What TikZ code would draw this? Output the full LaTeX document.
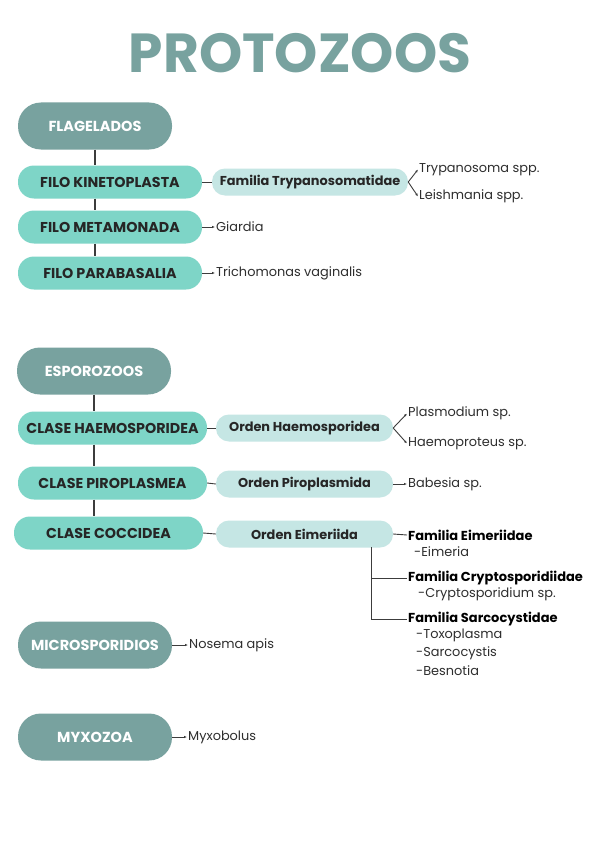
\documentclass[tikz,border=0pt]{standalone}
\usepackage{fontspec}
\setmainfont{Poppins}
\usepackage{xcolor}
\usetikzlibrary{arrows.meta}

\definecolor{tealoscuro}{HTML}{78A29F}
\definecolor{tealmedio}{HTML}{7ED5C7}
\definecolor{tealclaro}{HTML}{C5E6E4}
\definecolor{lineagris}{HTML}{3C3C3C}
\definecolor{textogris}{HTML}{2E2E2E}

\tikzset{
  grupo/.style={fill=tealoscuro, text=white, font=\bfseries\fontsize{14.5}{16}\selectfont,
    minimum width=154pt, minimum height=47pt, rounded corners=23pt, inner sep=0pt},
  filo/.style={fill=tealmedio, text=black!85, font=\bfseries\fontsize{14.3}{16}\selectfont,
    minimum width=184pt, minimum height=33pt, rounded corners=16pt, inner sep=0pt},
  orden/.style={fill=tealclaro, text=black!85, font=\bfseries\fontsize{12.9}{14}\selectfont,
    minimum width=177pt, minimum height=27pt, rounded corners=13pt, inner sep=0pt},
  hoja/.style={anchor=west, inner sep=1pt, text=textogris, font=\fontsize{12.9}{14}\selectfont},
  hojab/.style={hoja, text=black, font=\bfseries\fontsize{13}{14}\selectfont},
  tallo/.style={draw=lineagris, line width=1.3pt},
  enlace/.style={draw=lineagris, line width=0.9pt},
  rama/.style={draw=lineagris, line width=0.9pt, -{Latex[length=3pt,width=2.4pt]}}
}

\begin{document}
\begin{tikzpicture}[x=1pt, y=-1pt]
  \fill[white] (0,0) rectangle (600,848);
  \useasboundingbox (0,0) rectangle (600,848);

  \node[text=tealoscuro, font=\bfseries\fontsize{55}{60}\selectfont] (titulo) at (300,53) {PROTOZOOS};

  % flagelados
  \node[grupo] (flag) at (95,126) {FLAGELADOS};
  \node[filo] (kin) at (110,182) {FILO KINETOPLASTA};
  \node[filo] (meta) at (110,227) {FILO METAMONADA};
  \node[filo] (para) at (110,273) {FILO PARABASALIA};
  \foreach \a/\b in {flag/kin, kin/meta, meta/para}{
    \draw[tallo] (\a.south -| flag) -- (\b.north -| flag);
  }
  \node[orden, minimum width=196pt] (tryp) at (310,182) {Familia Trypanosomatidae};
  \draw[enlace] (kin.east) -- (tryp.west);
  \node[hoja] (trypa) at (418,169.5) {Trypanosoma spp.};
  \node[hoja] (leish) at (418,196.5) {Leishmania spp.};
  \draw[rama] (tryp.east) -- (trypa.west);
  \draw[rama] (tryp.east) -- (leish.west);
  \node[hoja] (giar) at (215,227) {Giardia};
  \draw[rama] (meta.east) -- (giar.west);
  \node[hoja] (trich) at (215,273) {Trichomonas vaginalis};
  \draw[rama] (para.east) -- (trich.west);

  % esporozoos
  \node[grupo] (espo) at (94,371) {ESPOROZOOS};
  \node[filo, minimum width=189pt] (haem) at (112.5,428) {CLASE HAEMOSPORIDEA};
  \node[filo, minimum width=189pt] (piro) at (112.5,483) {CLASE PIROPLASMEA};
  \node[filo, minimum width=189pt] (cocc) at (108.5,533) {CLASE COCCIDEA};
  \foreach \a/\b in {espo/haem, haem/piro, piro/cocc}{
    \draw[tallo] (\a.south -| espo) -- (\b.north -| espo);
  }
  \node[orden] (ohaem) at (304.5,428) {Orden Haemosporidea};
  \node[orden] (opiro) at (304.5,484) {Orden Piroplasmida};
  \node[orden] (oeime) at (304.5,534) {Orden Eimeriida};
  \foreach \a/\b in {haem/ohaem, piro/opiro, cocc/oeime}{
    \draw[enlace] (\a.east) -- (\b.west);
  }
  \node[hoja] (plas) at (407,413.5) {Plasmodium sp.};
  \node[hoja] (haemo) at (407,443.5) {Haemoproteus sp.};
  \draw[rama] (ohaem.east) -- (plas.west);
  \draw[rama] (ohaem.east) -- (haemo.west);
  \node[hoja] (babe) at (407,484) {Babesia sp.};
  \draw[rama] (opiro.east) -- (babe.west);

  \node[hojab] (feime) at (407,535) {Familia Eimeriidae};
  \node[hoja] (eime) at (413,552) {-Eimeria};
  \node[hojab] (fcryp) at (407,578) {Familia Cryptosporidiidae};
  \node[hoja] (cryp) at (417,594) {-Cryptosporidium sp.};
  \node[hojab] (fsarc) at (407,619) {Familia Sarcocystidae};
  \node[hoja] (toxo) at (415,635) {-Toxoplasma};
  \node[hoja] (sarc) at (415,653) {-Sarcocystis};
  \node[hoja] (besn) at (415,671) {-Besnotia};
  \coordinate (codo) at (371,547);
  \draw[enlace] (oeime.east) -- (feime.west);
  \draw[enlace] (codo) -- (codo |- fsarc.west) -- (fsarc.west);
  \draw[enlace] (codo |- fcryp.west) -- (fcryp.west);

  % microsporidios y myxozoa
  \node[grupo] (micro) at (95,645) {MICROSPORIDIOS};
  \node[hoja] (nosem) at (188,645) {Nosema apis};
  \draw[rama] (micro.east) -- (nosem.west);
  \node[grupo] (myxo) at (95,737) {MYXOZOA};
  \node[hoja] (myxob) at (187,737) {Myxobolus};
  \draw[rama] (myxo.east) -- (myxob.west);
\end{tikzpicture}
\end{document}
